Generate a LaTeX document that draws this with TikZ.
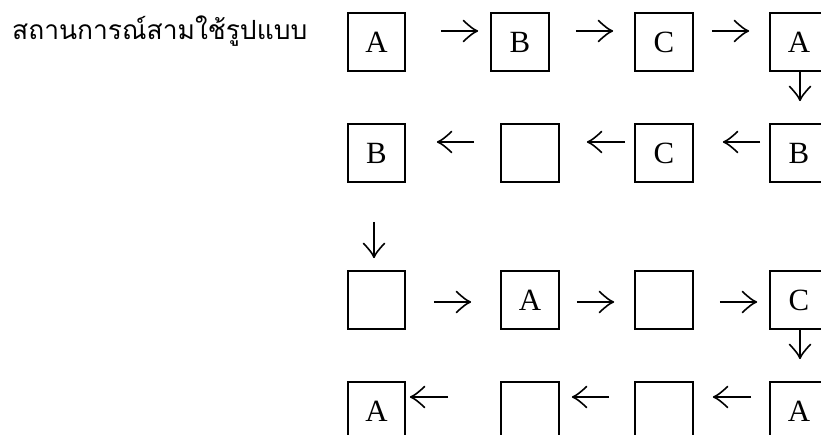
\documentclass[tikz,border=0pt]{standalone}
\usepackage{fontspec}
\usetikzlibrary{arrows.meta}
\newfontfamily\thaifont[Script=Thai]{Loma}
\newfontfamily\boxfont{Liberation Serif}
\pgfdeclarearrow{
  name=GlyphTip,
  parameters={\the\pgfarrowlength,\the\pgfarrowwidth},
  setup code={
    \pgfarrowssettipend{0.5\pgflinewidth}
    \pgfarrowssetbackend{-\pgfarrowlength}
    \pgfarrowssetlineend{-0.5\pgflinewidth}
    \pgfarrowssavethe\pgfarrowlength
    \pgfarrowssavethe\pgfarrowwidth
  },
  drawing code={
    \pgfsetdash{}{0pt}
    \pgfsetroundcap
    \pgfsetroundjoin
    \pgfpathmoveto{\pgfqpoint{-\pgfarrowlength}{.5\pgfarrowwidth}}
    \pgfpathcurveto{\pgfqpoint{-.55\pgfarrowlength}{.22\pgfarrowwidth}}{\pgfqpoint{-.25\pgfarrowlength}{.06\pgfarrowwidth}}{\pgfpointorigin}
    \pgfpathcurveto{\pgfqpoint{-.25\pgfarrowlength}{-.06\pgfarrowwidth}}{\pgfqpoint{-.55\pgfarrowlength}{-.22\pgfarrowwidth}}{\pgfqpoint{-\pgfarrowlength}{-.5\pgfarrowwidth}}
    \pgfusepathqstroke
  },
  defaults={length=14bp,width=21bp}
}
\begin{document}
\begin{tikzpicture}[x=1bp,y=-1bp,
  box/.style={draw, line width=1.7bp, minimum size=57.5bp, inner sep=0pt,
    font=\boxfont\fontsize{31}{31}\selectfont},
  arr/.style={line width=1.6bp, -{GlyphTip[length=14bp,width=21bp]}}]
\useasboundingbox (0,0) rectangle (821,435);
\clip (0,0) rectangle (821,435);
% title
\node[anchor=base west, inner sep=0pt, font=\thaifont\fontsize{26.5}{30}\selectfont] (title) at (12,40) {สถานการณ์สามใช้รูปแบบ};
% row 1
\node[box] (a11) at (376.5,42) {A};
\node[box] (a12) at (520,42) {B};
\node[box] (a13) at (664,42) {C};
\node[box] (a14) at (799,42) {A};
% row 2
\node[box] (a21) at (376.5,153) {B};
\node[box] (a22) at (530,153) {};
\node[box] (a23) at (664,153) {C};
\node[box] (a24) at (799,153) {B};
% row 3
\node[box] (a31) at (376.5,300) {};
\node[box] (a32) at (530,300) {A};
\node[box] (a33) at (664,300) {};
\node[box] (a34) at (799,300) {C};
% row 4
\node[box] (a41) at (376.5,411) {A};
\node[box] (a42) at (530,411) {};
\node[box] (a43) at (664,411) {};
\node[box] (a44) at (799,411) {A};
% row 1 arrows
\draw[arr] ([shift={(34.75,-11)}]a11.east) -- ([shift={(-12.25,-11)}]a12.west);
\draw[arr] ([shift={(26.25,-11)}]a12.east) -- ([shift={(-21.25,-11)}]a13.west);
\draw[arr] ([shift={(18.25,-11)}]a13.east) -- ([shift={(-20.25,-11)}]a14.west);
\draw[arr] ([shift={(1,0)}]a14.south) -- ([shift={(1,-22.25)}]a24.north);
% row 2 arrows
\draw[arr] ([shift={(-9.25,-11)}]a24.west) -- ([shift={(29.25,-11)}]a23.east);
\draw[arr] ([shift={(-9.25,-11)}]a23.west) -- ([shift={(27.25,-11)}]a22.east);
\draw[arr] ([shift={(-26.25,-11)}]a22.west) -- ([shift={(30.75,-11)}]a21.east);
\draw[arr] ([shift={(-2.5,39.25)}]a21.south) -- ([shift={(-2.5,-12.25)}]a31.north);
% row 3 arrows
\draw[arr] ([shift={(27.75,2)}]a31.east) -- ([shift={(-29.25,2)}]a32.west);
\draw[arr] ([shift={(17.25,2)}]a32.east) -- ([shift={(-20.25,2)}]a33.west);
\draw[arr] ([shift={(26.25,2)}]a33.east) -- ([shift={(-12.25,2)}]a34.west);
\draw[arr] ([shift={(1,0.25)}]a34.south) -- ([shift={(1,-22.25)}]a44.north);
% row 4 arrows
\draw[arr] ([shift={(-18.25,-14)}]a44.west) -- ([shift={(19.25,-14)}]a43.east);
\draw[arr] ([shift={(-25.25,-14)}]a43.west) -- ([shift={(12.25,-14)}]a42.east);
\draw[arr] ([shift={(-52.25,-14)}]a42.west) -- ([shift={(3.75,-14)}]a41.east);
\end{tikzpicture}
\end{document}
